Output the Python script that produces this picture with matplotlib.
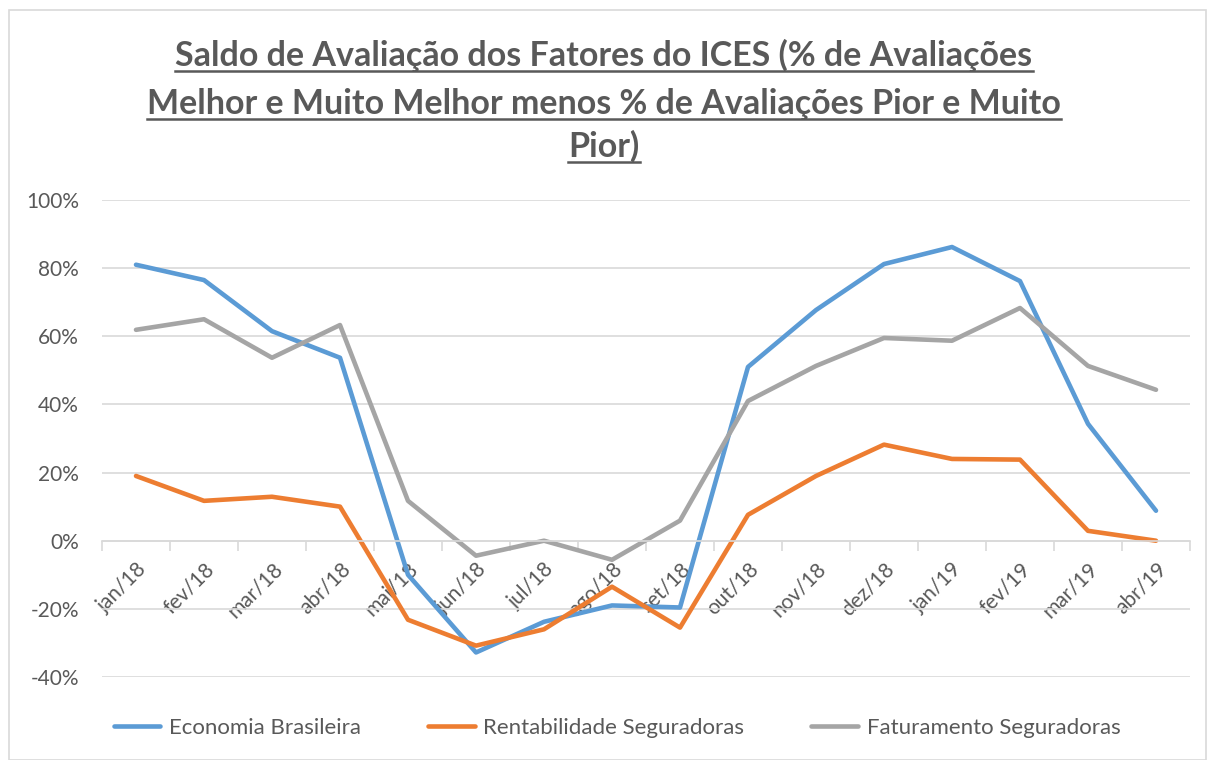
import matplotlib
matplotlib.use('Agg')
import matplotlib.pyplot as plt
from matplotlib.patches import Rectangle
from matplotlib.lines import Line2D
from matplotlib.ticker import FuncFormatter

plt.rcParams['font.family'] = ['Lato', 'DejaVu Sans']

meses = ['jan/18', 'fev/18', 'mar/18', 'abr/18', 'mai/18', 'jun/18', 'jul/18', 'ago/18',
         'set/18', 'out/18', 'nov/18', 'dez/18', 'jan/19', 'fev/19', 'mar/19', 'abr/19']
economia = [81, 76.5, 61.5, 53.7, -10, -32.8, -23.8, -19, -19.6, 51, 67.7, 81.2, 86.2, 76.2, 34.3, 8.8]
rentabilidade = [19, 11.7, 12.9, 10, -23.2, -30.8, -26, -13.5, -25.5, 7.6, 19, 28.2, 24, 23.8, 2.9, 0]
faturamento = [61.9, 65, 53.7, 63.3, 11.7, -4.4, 0, -5.6, 5.9, 41, 51.3, 59.5, 58.7, 68.3, 51.3, 44.3]

titulo = ['Saldo de Avaliação dos Fatores do ICES (% de Avaliações',
          'Melhor e Muito Melhor menos % de Avaliações Pior e Muito',
          'Pior)']

cinza = '#595959'
fig = plt.figure(figsize=(12.08, 7.6), dpi=100)
ax = fig.add_axes([102/1208, 1 - 677/760, 1088/1208, 477/760])

x = range(len(meses))
estilo = dict(lw=3.3, solid_joinstyle='round', solid_capstyle='round')
ax.plot(x, economia, color='#5B9BD5', label='Economia Brasileira', **estilo)
ax.plot(x, rentabilidade, color='#ED7D31', label='Rentabilidade Seguradoras', **estilo)
ax.plot(x, faturamento, color='#A5A5A5', label='Faturamento Seguradoras', **estilo)

ax.set_xlim(-0.5, len(meses) - 0.5)
ax.set_ylim(-40, 100)
ax.set_yticks(range(-40, 101, 20))
ax.yaxis.set_major_formatter(FuncFormatter(lambda v, p: f'{int(v)}%'))
ax.grid(axis='y', color='#D9D9D9', lw=1.2)
ax.set_axisbelow(True)
for s in ['top', 'right', 'left']:
    ax.spines[s].set_visible(False)
ax.spines['bottom'].set_position(('data', 0))
ax.spines['bottom'].set_color('#D9D9D9')
ax.spines['bottom'].set_linewidth(1.2)

# ticks das categorias nas fronteiras, rótulos no centro
ax.set_xticks(list(x))
ax.set_xticklabels(meses, rotation=45, ha='right', rotation_mode='anchor', fontsize=15, color=cinza)
ax.tick_params(axis='x', which='major', length=0, pad=13)
ax.set_xticks([i - 0.5 for i in range(len(meses) + 1)], minor=True)
ax.tick_params(axis='x', which='minor', length=7, color='#D9D9D9', width=1.2)
ax.tick_params(axis='y', length=0, labelsize=15, labelcolor=cinza, pad=16.5)

# titulo sublinhado
fig.canvas.draw()
r = fig.canvas.get_renderer()
ys = [66, 114, 157]
for t, yy in zip(titulo, ys):
    txt = fig.text(0.5, 1 - yy/760, t, ha='center', va='baseline', fontsize=24.5,
                   fontweight='bold', color=cinza)
    bb = txt.get_window_extent(renderer=r)
    fig.add_artist(Line2D([bb.x0/1208, bb.x1/1208], [1 - (yy + 5)/760] * 2,
                          color=cinza, lw=1.8))

leg = fig.legend(loc='center', bbox_to_anchor=(617/1208, 1 - 728/760), ncol=3, frameon=False,
                 fontsize=16, handlelength=2.1, columnspacing=3.0, handletextpad=0.4)
for tx in leg.get_texts():
    tx.set_color(cinza)

fig.add_artist(Rectangle((9/1208, 0), 1197/1208, 1 - 10/760, fill=False,
                         edgecolor='#D9D9D9', lw=1.2, transform=fig.transFigure))

fig.savefig('out.png', dpi=100)
